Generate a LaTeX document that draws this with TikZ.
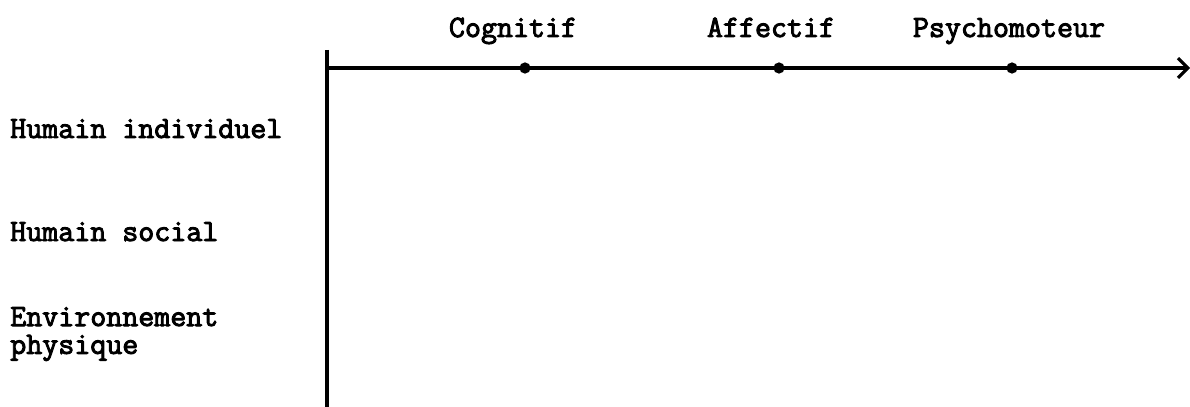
\documentclass[tikz,border=0pt]{standalone}
\usepackage{fontspec}
\newfontfamily\typofont{Latin Modern Mono}[FakeBold=3]
\usetikzlibrary{arrows.meta}
\begin{document}
\begin{tikzpicture}[x=0.025cm, y=-0.025cm,
    lbl/.style={font=\fontsize{22.1}{19.8}\selectfont\typofont, inner sep=0pt, anchor=base},
    axe/.style={line width=2.2pt},
    pt/.style={circle, fill=black, inner sep=0pt, minimum size=8pt}]
    \useasboundingbox (0, 0) rectangle (1190, 407);

    % axes
    \coordinate (ytop) at (327, 50);
    \coordinate (ybot) at (327, 407);
    \coordinate (orig) at (327, 68);
    \coordinate (xend) at (1190, 68);
    \draw[axe] (ytop) -- (ybot);
    \draw[axe, -{Straight Barb[length=7pt, width=14pt, line width=2.2pt]}] (orig) -- (xend);

    % points on the axis
        \node[pt] (cog) at (525, 68) {};
        \node[pt] (aff) at (779, 68) {};
        \node[pt] (psy) at (1012, 68) {};

    % column labels
        \node[lbl] (tcog) at (513, 37) {Cognitif};
        \node[lbl] (taff) at (771, 37) {Affectif};
        \node[lbl] (tpsy) at (1009, 37) {Psychomoteur};

    % row labels
        \node[lbl, anchor=base west] (hind) at (10, 138) {Humain individuel};
        \node[lbl, anchor=base west] (hsoc) at (10, 241) {Humain social};
        \node[lbl, anchor=west, align=left] (env) at (10, 334) {Environnement\\physique};
\end{tikzpicture}
\end{document}
